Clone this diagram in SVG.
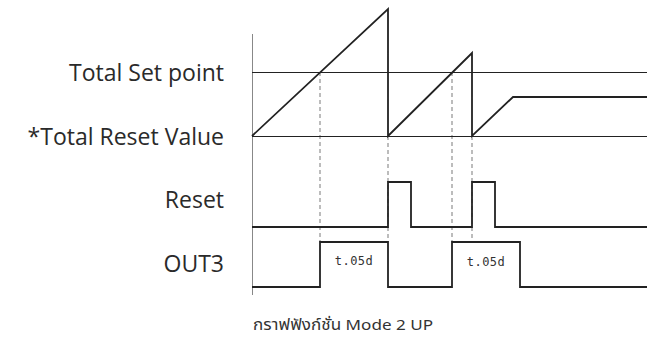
<svg xmlns="http://www.w3.org/2000/svg" width="647" height="337" viewBox="0 0 647 337">
<style>
.lbl{font-family:"Open Sans","Liberation Sans",sans-serif;font-size:23px;fill:#2a2a2a;text-anchor:end}
.ref{stroke:#222;stroke-width:1;fill:none}
.sig{stroke:#222;stroke-width:1.8;fill:none;stroke-linejoin:miter}
.dash{stroke:#999;stroke-width:1.3;stroke-dasharray:4,3;fill:none}
.seg{font-family:"DejaVu Sans Mono","Liberation Mono",monospace;font-size:12px;fill:#333;text-anchor:middle;letter-spacing:0.5px}
.cap{font-family:"Noto Sans Thai","Noto Sans","DejaVu Sans",sans-serif;font-size:15px;fill:#333}
</style>
<rect width="647" height="337" fill="#fff"/>
<g id="labels">
<text class="lbl" x="224" y="81">Total Set point</text>
<text class="lbl" x="224" y="145">*Total Reset Value</text>
<text class="lbl" x="224" y="208">Reset</text>
<text class="lbl" x="224" y="272">OUT3</text>
</g>
<g id="axis"><line x1="252.5" y1="34" x2="252.5" y2="295" stroke="#888" stroke-width="1"/></g>
<g id="connectors">
<line class="dash" x1="320" y1="72" x2="320" y2="242"/>
<line class="dash" x1="388" y1="136" x2="388" y2="242"/>
<line class="dash" x1="452" y1="72" x2="452" y2="242"/>
<line class="dash" x1="472" y1="136" x2="472" y2="242"/>
</g>
<g id="reference-lines">
<line class="ref" x1="252" y1="72.5" x2="647" y2="72.5"/>
<line class="ref" x1="252" y1="136.5" x2="647" y2="136.5"/>
</g>
<g id="count">
<polyline class="sig" points="252,136 388,9 388,136 472,53 472,136 513,97 647,97"/>
</g>
<g id="reset">
<polyline class="sig" points="252,227 388,227 388,182 411,182 411,227 472,227 472,182 495,182 495,227 647,227"/>
</g>
<g id="out3">
<polyline class="sig" points="252,287 320,287 320,242 388,242 388,287 452,287 452,242 520,242 520,287 647,287"/>
<text class="seg" x="354" y="265">t.05d</text>
<text class="seg" x="486" y="266">t.05d</text>
</g>
<g id="caption"><text class="cap" x="253" y="330" textLength="180" lengthAdjust="spacingAndGlyphs">กราฟฟังก์ชั่น Mode 2 UP</text></g>
</svg>
